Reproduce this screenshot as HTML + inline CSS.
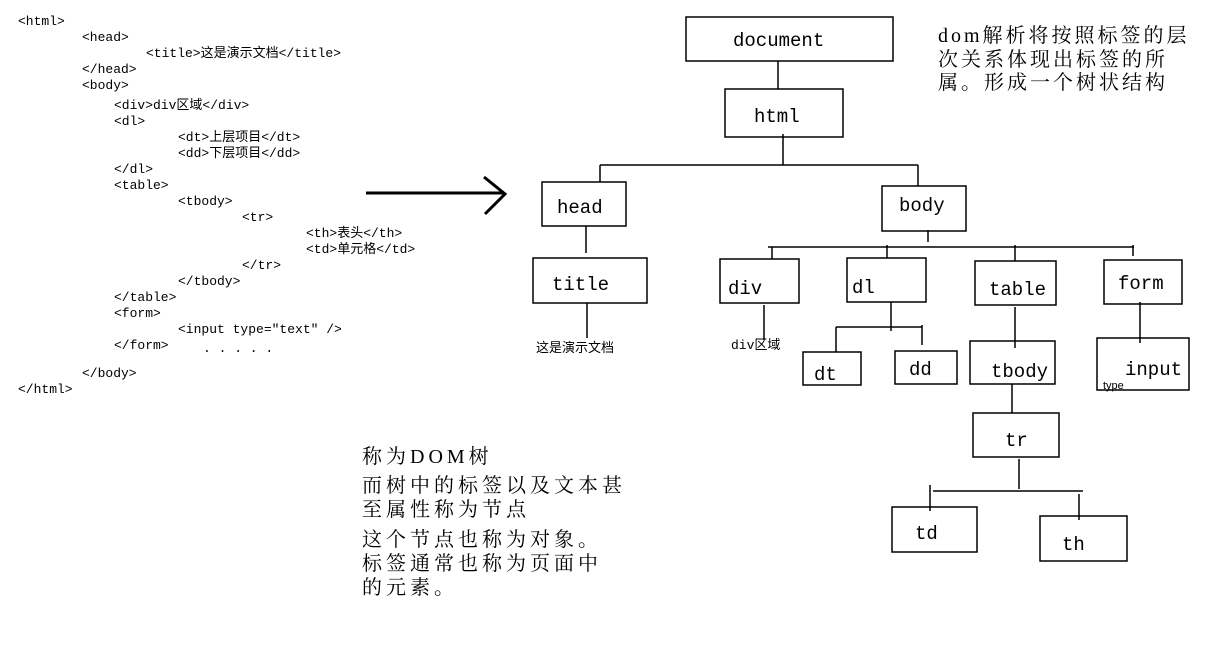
<!DOCTYPE html>
<html><head><meta charset="utf-8"><style>
html,body{margin:0;padding:0;background:#fff;width:1206px;height:647px;overflow:hidden}
svg{display:block}
.c{font-family:"Liberation Mono","Noto Sans CJK SC",monospace;font-size:13px;fill:#000}
.l{font-family:"Liberation Mono","Noto Serif CJK SC",monospace;font-size:19px;fill:#000}
.t{font-family:"Liberation Serif","Noto Serif CJK SC",serif;font-size:20px;fill:#000;letter-spacing:3px}
.b{font-family:"Liberation Serif","Noto Serif CJK SC",serif;font-size:20px;fill:#000;letter-spacing:4px}
.s{font-family:"Liberation Sans","Noto Sans CJK SC",sans-serif;font-size:14px;fill:#000}
</style></head><body>
<svg width="1206" height="647" viewBox="0 0 1206 647">
<g class="c">
<text x="18" y="25">&lt;html&gt;</text>
<text x="82" y="41">&lt;head&gt;</text>
<text x="146" y="57">&lt;title&gt;这是演示文档&lt;/title&gt;</text>
<text x="82" y="73">&lt;/head&gt;</text>
<text x="82" y="89">&lt;body&gt;</text>
<text x="114" y="109">&lt;div&gt;div区域&lt;/div&gt;</text>
<text x="114" y="125">&lt;dl&gt;</text>
<text x="178" y="141">&lt;dt&gt;上层项目&lt;/dt&gt;</text>
<text x="178" y="157">&lt;dd&gt;下层项目&lt;/dd&gt;</text>
<text x="114" y="173">&lt;/dl&gt;</text>
<text x="114" y="189">&lt;table&gt;</text>
<text x="178" y="205">&lt;tbody&gt;</text>
<text x="242" y="221">&lt;tr&gt;</text>
<text x="306" y="237">&lt;th&gt;表头&lt;/th&gt;</text>
<text x="306" y="253">&lt;td&gt;单元格&lt;/td&gt;</text>
<text x="242" y="269">&lt;/tr&gt;</text>
<text x="178" y="285">&lt;/tbody&gt;</text>
<text x="114" y="301">&lt;/table&gt;</text>
<text x="114" y="317">&lt;form&gt;</text>
<text x="178" y="333">&lt;input type="text" /&gt;</text>
<text x="114" y="349">&lt;/form&gt;</text>
<text x="203" y="352">. . . . .</text>
<text x="82" y="377">&lt;/body&gt;</text>
<text x="18" y="393">&lt;/html&gt;</text>
</g>
<g stroke="#000" stroke-width="3" fill="none">
<line x1="366" y1="193" x2="504" y2="193"/>
<polyline points="484,177 505,194 485,214"/>
</g>
<g stroke="#000" stroke-width="1.5" fill="none">
<rect x="686" y="17" width="207" height="44"/>
<rect x="725" y="89" width="118" height="48"/>
<rect x="542" y="182" width="84" height="44"/>
<rect x="882" y="186" width="84" height="45"/>
<rect x="533" y="258" width="114" height="45"/>
<rect x="720" y="259" width="79" height="44"/>
<rect x="847" y="258" width="79" height="44"/>
<rect x="975" y="261" width="81" height="44"/>
<rect x="1104" y="260" width="78" height="44"/>
<rect x="803" y="352" width="58" height="33"/>
<rect x="895" y="351" width="62" height="33"/>
<rect x="970" y="341" width="85" height="43"/>
<rect x="1097" y="338" width="92" height="52"/>
<rect x="973" y="413" width="86" height="44"/>
<rect x="892" y="507" width="85" height="45"/>
<rect x="1040" y="516" width="87" height="45"/>
<line x1="778" y1="61" x2="778" y2="89"/>
<line x1="783" y1="134" x2="783" y2="165"/>
<line x1="600" y1="165" x2="918" y2="165"/>
<line x1="600" y1="165" x2="600" y2="182"/>
<line x1="918" y1="165" x2="918" y2="186"/>
<line x1="586" y1="226" x2="586" y2="253"/>
<line x1="587" y1="303" x2="587" y2="338"/>
<line x1="928" y1="230" x2="928" y2="242"/>
<line x1="768" y1="247" x2="1134" y2="247"/>
<line x1="772" y1="247" x2="772" y2="259"/>
<line x1="887" y1="245" x2="887" y2="258"/>
<line x1="1015" y1="245" x2="1015" y2="261"/>
<line x1="1133" y1="245" x2="1133" y2="256"/>
<line x1="764" y1="305" x2="764" y2="340"/>
<line x1="891" y1="302" x2="891" y2="331"/>
<line x1="836" y1="327" x2="922" y2="327"/>
<line x1="836" y1="327" x2="836" y2="352"/>
<line x1="922" y1="325" x2="922" y2="345"/>
<line x1="1015" y1="307" x2="1015" y2="348"/>
<line x1="1140" y1="302" x2="1140" y2="343"/>
<line x1="1012" y1="384" x2="1012" y2="413"/>
<line x1="1019" y1="459" x2="1019" y2="489"/>
<line x1="933" y1="491" x2="1083" y2="491"/>
<line x1="930" y1="485" x2="930" y2="511"/>
<line x1="1079" y1="494" x2="1079" y2="520"/>
</g>
<g class="l">
<text x="733" y="46">document</text>
<text x="754" y="122">html</text>
<text x="557" y="213">head</text>
<text x="899" y="211">body</text>
<text x="552" y="290">title</text>
<text x="728" y="294">div</text>
<text x="852" y="293">dl</text>
<text x="989" y="295">table</text>
<text x="1118" y="289">form</text>
<text x="814" y="380">dt</text>
<text x="909" y="375">dd</text>
<text x="991" y="377">tbody</text>
<text x="1125" y="375">input</text>
<text x="1005" y="446">tr</text>
<text x="915" y="539">td</text>
<text x="1062" y="550">th</text>
</g>
<text class="c" x="536" y="352">这是演示文档</text>
<text class="c" x="731" y="349">div区域</text>
<text class="s" x="1103" y="389" style="font-size:11px">type</text>
<g class="t">
<text x="938" y="42">dom解析将按照标签的层</text>
<text x="938" y="66">次关系体现出标签的所</text>
<text x="938" y="89">属。形成一个树状结构</text>
</g>
<g class="b">
<text x="362" y="463">称为DOM树</text>
<text x="362" y="492">而树中的标签以及文本甚</text>
<text x="362" y="516">至属性称为节点</text>
<text x="362" y="546">这个节点也称为对象。</text>
<text x="362" y="570">标签通常也称为页面中</text>
<text x="362" y="594">的元素。</text>
</g>
</svg>
</body></html>
